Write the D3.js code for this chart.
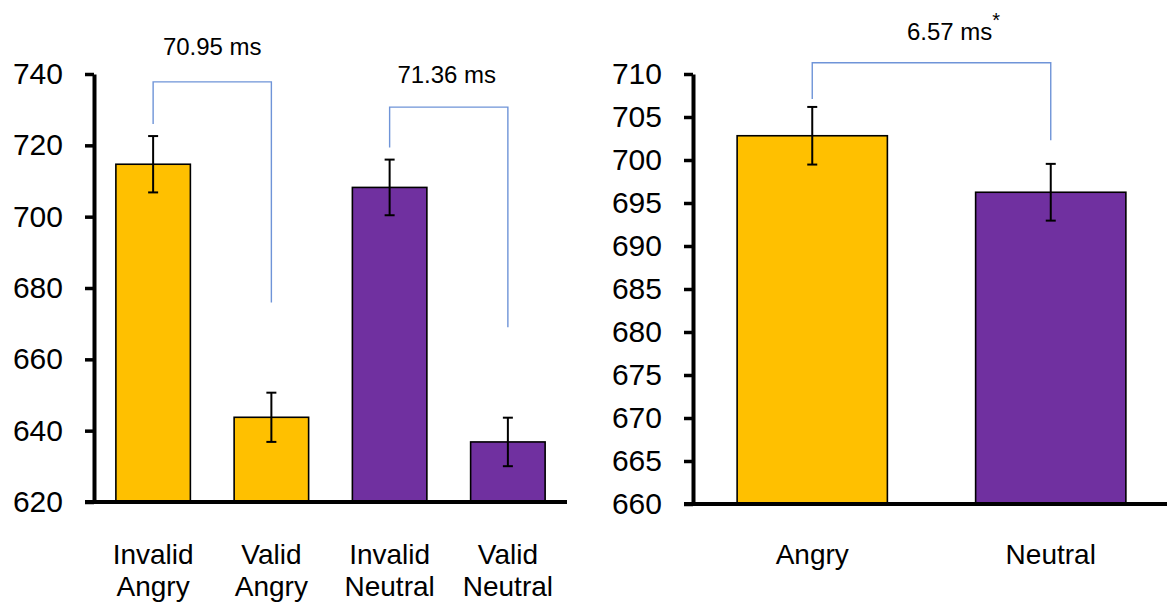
<!DOCTYPE html>
<html>
<head>
<meta charset="utf-8">
<script src="https://cdn.jsdelivr.net/npm/d3@7"></script>
<style>
  body { margin: 0; background: #fff; }
  svg { font-family: "Liberation Sans", Arial, sans-serif; }
</style>
</head>
<body>
<div id="chart"></div>
<script>
// left panel: cue validity x emotion
const leftCategories = ["Invalid Angry", "Valid Angry", "Invalid Neutral", "Valid Neutral"];
const leftEmotion = ["Angry", "Angry", "Neutral", "Neutral"];
const leftMeans = [714.7, 643.75, 708.2, 636.84];
const leftErrors = [7.9, 6.9, 7.8, 6.8];
const leftTicks = [620, 640, 660, 680, 700, 720, 740];

// right panel: emotion only
const rightCategories = ["Angry", "Neutral"];
const rightEmotion = ["Angry", "Neutral"];
const rightMeans = [702.82, 696.25];
const rightErrors = [3.35, 3.3];
const rightTicks = [660, 665, 670, 675, 680, 685, 690, 695, 700, 705, 710];

// differences shown above the bars
const leftDiffLabels = ["70.95 ms", "71.36 ms"];
const rightDiffLabels = ["6.57 ms"];

const width = 1167, height = 606;

const color = d3.scaleOrdinal(["Angry", "Neutral"], ["#FFC000", "#7030A0"]);

const svg = d3.select("#chart")
  .append("svg")
  .attr("width", width)
  .attr("height", height);

function drawPanel(opts) {
  const data = opts.categories.map((c, i) => ({
    cat: c,
    emotion: opts.emotion[i],
    mean: opts.means[i],
    err: opts.errors[i]
  }));

  const x = d3.scaleBand()
    .domain(opts.categories)
    .range(opts.xRange)
    .paddingInner(0.37)
    .paddingOuter(0.185);

  const y = d3.scaleLinear()
    .domain(d3.extent(opts.ticks))
    .range(opts.yRange);

  const g = svg.append("g");

  // bars
  g.selectAll(".bar")
    .data(data)
    .enter()
    .append("rect")
    .attr("class", "bar")
    .attr("x", d => x(d.cat))
    .attr("y", d => y(d.mean))
    .attr("width", x.bandwidth())
    .attr("height", d => y(opts.ticks[0]) - y(d.mean))
    .attr("fill", d => color(d.emotion))
    .attr("stroke", "#000")
    .attr("stroke-width", 1.6);

  // error bars
  const eb = g.selectAll(".err")
    .data(data)
    .enter()
    .append("g")
    .attr("class", "err")
    .attr("stroke", "#000")
    .attr("stroke-width", 2);
  eb.append("line")
    .attr("x1", d => x(d.cat) + x.bandwidth() / 2)
    .attr("x2", d => x(d.cat) + x.bandwidth() / 2)
    .attr("y1", d => y(d.mean - d.err))
    .attr("y2", d => y(d.mean + d.err));
  eb.selectAll(".cap")
    .data(d => [d.mean - d.err, d.mean + d.err].map(v => ({ cat: d.cat, v: v })))
    .enter()
    .append("line")
    .attr("x1", d => x(d.cat) + x.bandwidth() / 2 - 5)
    .attr("x2", d => x(d.cat) + x.bandwidth() / 2 + 5)
    .attr("y1", d => y(d.v))
    .attr("y2", d => y(d.v));

  // y axis
  const axisX = opts.xRange[0];
  const yAxis = g.append("g")
    .attr("transform", "translate(" + axisX + ",0)")
    .call(d3.axisLeft(y).tickValues(opts.ticks).tickSize(9).tickSizeOuter(0).tickPadding(22).tickFormat(d3.format("d")));
  yAxis.select(".domain").attr("stroke", "#000").attr("stroke-width", 4);
  yAxis.selectAll(".tick line").attr("stroke", "#000").attr("stroke-width", 3.5);
  yAxis.selectAll(".tick text")
    .attr("fill", "#000")
    .style("font-size", "30px")
    .style("font-family", "'Liberation Sans', Arial, sans-serif");

  // x axis line (runs from the tick end to the right)
  g.append("line")
    .attr("x1", axisX - 9)
    .attr("x2", opts.xRange[1])
    .attr("y1", y(opts.ticks[0]))
    .attr("y2", y(opts.ticks[0]))
    .attr("stroke", "#000")
    .attr("stroke-width", 4);

  // category labels
  const lab = g.selectAll(".xlab")
    .data(opts.categories)
    .enter()
    .append("text")
    .attr("class", "xlab")
    .attr("text-anchor", "middle")
    .attr("fill", "#000")
    .style("font-size", "28px");
  lab.selectAll("tspan")
    .data(d => d.split(" ").map(w => ({ cat: d, w: w })))
    .enter()
    .append("tspan")
    .attr("x", d => x(d.cat) + x.bandwidth() / 2)
    .attr("y", (d, i) => 564 + i * 32)
    .text(d => d.w);

  // comparison brackets
  opts.brackets.forEach(b => {
    const xa = x(b.from) + x.bandwidth() / 2;
    const xb = x(b.to) + x.bandwidth() / 2;
    g.append("path")
      .attr("d", d3.line()([[xa, y(b.leftEnd)], [xa, y(b.top)], [xb, y(b.top)], [xb, y(b.rightEnd)]]))
      .attr("fill", "none")
      .attr("stroke", "#6F94D8")
      .attr("stroke-width", 1.4);
    const t = g.append("text")
      .attr("x", (xa + xb) / 2 + b.dx)
      .attr("y", y(b.top) - b.lift)
      .attr("text-anchor", "middle")
      .attr("fill", "#000")
      .style("font-size", "24px")
      .text(b.label);
    if (b.star) {
      t.append("tspan")
        .attr("dy", -13)
        .style("font-size", "20px")
        .text("*");
    }
  });
}

drawPanel({
  categories: leftCategories,
  emotion: leftEmotion,
  means: leftMeans,
  errors: leftErrors,
  ticks: leftTicks,
  xRange: [94, 567],
  yRange: [502, 74],
  brackets: [
    { from: "Invalid Angry", to: "Valid Angry", top: 737.8, leftEnd: 726, rightEnd: 675.9, label: leftDiffLabels[0], lift: 27, dx: 0 },
    { from: "Invalid Neutral", to: "Valid Neutral", top: 730.7, leftEnd: 719.4, rightEnd: 669, label: leftDiffLabels[1], lift: 24, dx: -2 }
  ]
});

drawPanel({
  categories: rightCategories,
  emotion: rightEmotion,
  means: rightMeans,
  errors: rightErrors,
  ticks: rightTicks,
  xRange: [693, 1170],
  yRange: [504, 74],
  brackets: [
    { from: "Angry", to: "Neutral", top: 711.3, leftEnd: 707.1, rightEnd: 702.3, label: rightDiffLabels[0], lift: 23, dx: 22, star: true }
  ]
});
</script>
</body>
</html>
